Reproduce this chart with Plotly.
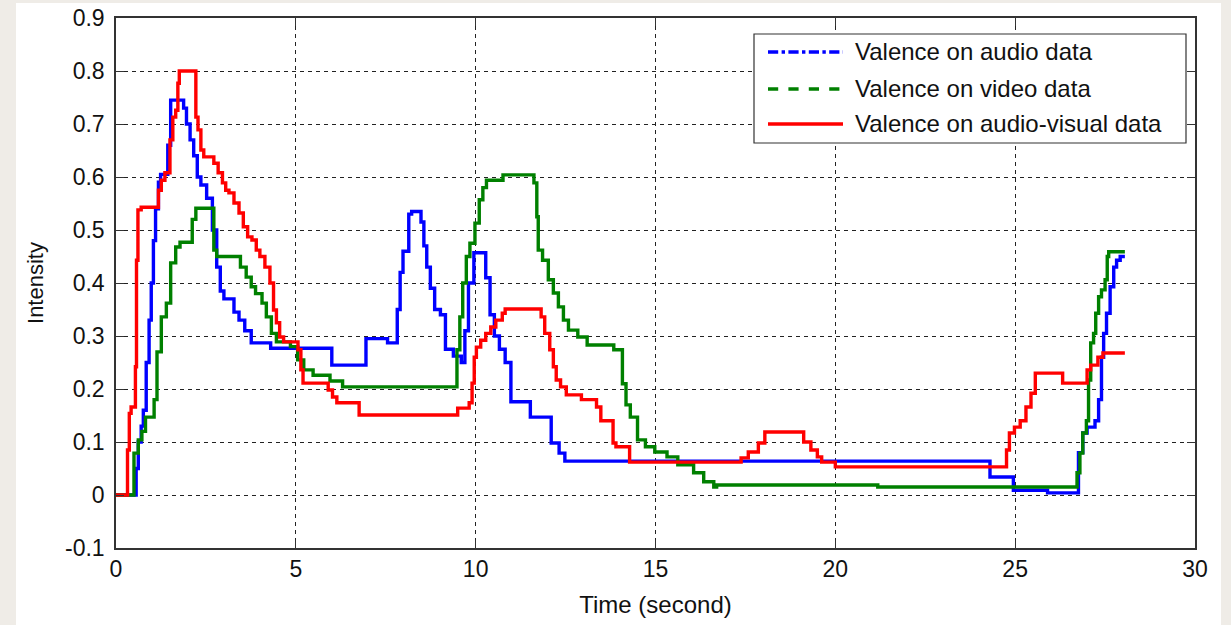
import plotly.graph_objects as go

# ---- data (step functions: value holds from t until next t) ----
audio_t = [0, 0.56, 0.62, 0.70, 0.76, 0.84, 0.92, 0.98, 1.04, 1.10, 1.18, 1.24, 1.44, 1.52, 1.88, 1.96,
           2.06, 2.16, 2.26, 2.36, 2.52, 2.68, 2.80, 2.90, 3.00, 3.28, 3.42, 3.58, 3.76, 4.30, 6.00, 6.95,
           7.55, 7.82, 7.90, 7.98, 8.14, 8.22, 8.48, 8.56, 8.64, 8.74, 8.86, 9.02, 9.16, 9.38, 9.60, 9.70,
           9.80, 9.95, 10.28, 10.40, 10.52, 10.66, 10.82, 10.98, 11.52, 12.10, 12.32, 12.48, 24.30, 24.95,
           25.90, 26.76, 26.88, 27.00, 27.22, 27.32, 27.40, 27.46, 27.54, 27.64, 27.74, 27.82, 27.92, 28.05]
audio_v = [0, 0.05, 0.10, 0.13, 0.16, 0.25, 0.33, 0.40, 0.48, 0.54, 0.59, 0.605, 0.66, 0.745, 0.73, 0.70,
           0.67, 0.64, 0.60, 0.585, 0.56, 0.50, 0.43, 0.385, 0.37, 0.345, 0.33, 0.31, 0.287, 0.277, 0.245, 0.295,
           0.287, 0.35, 0.42, 0.46, 0.53, 0.535, 0.515, 0.47, 0.43, 0.39, 0.35, 0.34, 0.275, 0.262, 0.25, 0.31,
           0.40, 0.457, 0.41, 0.34, 0.30, 0.275, 0.25, 0.176, 0.147, 0.098, 0.079, 0.064, 0.034, 0.009,
           0.004, 0.08, 0.117, 0.128, 0.14, 0.18, 0.26, 0.305, 0.343, 0.393, 0.43, 0.443, 0.45, 0.45]

video_t = [0, 0.50, 0.62, 0.72, 0.82, 1.06, 1.14, 1.26, 1.40, 1.52, 1.66, 1.78, 2.12, 2.22, 2.72, 2.80,
           3.46, 3.62, 3.76, 3.88, 4.06, 4.18, 4.32, 4.46, 4.85, 5.05, 5.22, 5.48, 5.95, 6.30, 9.48, 9.56,
           9.64, 9.74, 9.84, 9.98, 10.10, 10.20, 10.30, 10.76, 11.62, 11.70, 11.74, 11.86, 12.02, 12.16,
           12.30, 12.44, 12.58, 12.84, 13.10, 13.84, 14.08, 14.18, 14.30, 14.50, 14.72, 14.98, 15.32, 15.62,
           16.06, 16.34, 16.62, 16.70, 21.18, 26.72, 26.80, 26.88, 26.98, 27.04, 27.10, 27.18, 27.24, 27.32,
           27.40, 27.50, 27.56, 27.60, 28.05]
video_v = [0, 0.079, 0.104, 0.12, 0.147, 0.18, 0.27, 0.336, 0.362, 0.438, 0.468, 0.477, 0.52, 0.541, 0.462, 0.45,
           0.43, 0.411, 0.393, 0.38, 0.362, 0.336, 0.305, 0.289, 0.28, 0.255, 0.236, 0.226, 0.215, 0.204, 0.274, 0.336,
           0.40, 0.45, 0.475, 0.513, 0.557, 0.58, 0.594, 0.604, 0.589, 0.525, 0.462, 0.443, 0.406, 0.381,
           0.355, 0.33, 0.311, 0.298, 0.283, 0.274, 0.21, 0.17, 0.147, 0.104, 0.091, 0.081, 0.072, 0.057,
           0.042, 0.025, 0.015, 0.019, 0.015, 0.042, 0.079, 0.117, 0.14, 0.217, 0.287, 0.305, 0.343, 0.374,
           0.387, 0.406, 0.45, 0.459, 0.459]

av_t = [0, 0.32, 0.37, 0.42, 0.54, 0.57, 0.61, 0.70, 1.18, 1.26, 1.36, 1.50, 1.58, 1.66, 1.72, 1.76,
        2.22, 2.28, 2.36, 2.44, 2.72, 2.84, 2.96, 3.05, 3.14, 3.28, 3.42, 3.54, 3.66, 3.78, 3.90, 4.00,
        4.14, 4.28, 4.38, 4.46, 4.55, 4.66, 5.06, 5.14, 5.20, 5.90, 6.02, 6.14, 6.76, 9.50, 9.82, 9.90,
        9.96, 10.02, 10.14, 10.28, 10.42, 10.56, 10.74, 10.82, 11.82, 11.92, 12.06, 12.16, 12.24, 12.36,
        12.52, 12.94, 13.36, 13.48, 13.82, 13.90, 14.28, 17.38, 17.58, 17.86, 18.04, 19.12, 19.32, 19.50,
        19.62, 20.00, 24.76, 24.84, 24.98, 25.14, 25.30, 25.44, 25.56, 26.32, 27.00, 27.10, 27.30, 27.44, 28.05]
av_v = [0, 0.085, 0.154, 0.166, 0.242, 0.443, 0.538, 0.543, 0.575, 0.594, 0.608, 0.67, 0.713, 0.726, 0.777, 0.80,
        0.713, 0.689, 0.651, 0.638, 0.626, 0.608, 0.589, 0.575, 0.57, 0.551, 0.532, 0.506, 0.487, 0.481, 0.462, 0.45,
        0.43, 0.40, 0.349, 0.325, 0.298, 0.289, 0.274, 0.236, 0.211, 0.198, 0.185, 0.174, 0.151, 0.164, 0.174, 0.211,
        0.26, 0.279, 0.292, 0.305, 0.317, 0.33, 0.343, 0.351, 0.336, 0.305, 0.274, 0.242, 0.217, 0.204,
        0.189, 0.18, 0.166, 0.14, 0.098, 0.091, 0.062, 0.07, 0.081, 0.098, 0.119, 0.10, 0.085, 0.072,
        0.062, 0.053, 0.085, 0.117, 0.128, 0.14, 0.166, 0.192, 0.23, 0.211, 0.236, 0.245, 0.26, 0.268, 0.268]

series_names = ["Valence on audio data", "Valence on video data", "Valence on audio-visual data"]
series_colors = ["#0000ff", "#008000", "#ff0000"]
legend_dash = ["dashdot", "dash", "solid"]

x_ticks = [0, 5, 10, 15, 20, 25, 30]
y_ticks = [-0.1, 0, 0.1, 0.2, 0.3, 0.4, 0.5, 0.6, 0.7, 0.8, 0.9]
y_ticktext = ["-0.1", "0", "0.1", "0.2", "0.3", "0.4", "0.5", "0.6", "0.7", "0.8", "0.9"]

FONT = "Liberation Sans, Arial, sans-serif"
BG = "#efece7"

fig = go.Figure()
for (t, v), name, col in zip([(audio_t, audio_v), (video_t, video_v), (av_t, av_v)],
                             series_names, series_colors):
    fig.add_trace(go.Scatter(x=t, y=v, mode="lines", name=name, line=dict(color=col, width=3.4, shape="hv"),
                             showlegend=False))

# layout geometry (pixels)
W, H = 1231, 625
ML, MR, MT, MB = 116, 36, 18, 77
PW, PH = W - ML - MR, H - MT - MB

def px(x):
    return (x - ML) / PW

def py(y):
    return (H - MB - y) / PH

shapes = [
    # white figure panel
    dict(type="rect", xref="paper", yref="paper", x0=px(16), x1=px(1221), y0=py(630), y1=py(3),
         fillcolor="white", line=dict(width=0), layer="below"),
    # legend box
    dict(type="rect", xref="paper", yref="paper", x0=px(754), x1=px(1186), y0=py(143), y1=py(34),
         fillcolor="white", line=dict(color="#333333", width=1.2), layer="above"),
]
annotations = []
leg_y = [52, 89, 124]
for yy, name, col, dsh in zip(leg_y, series_names, series_colors, legend_dash):
    shapes.append(dict(type="line", xref="paper", yref="paper", x0=px(768), x1=px(843), y0=py(yy), y1=py(yy),
                       line=dict(color=col, width=3.4, dash=dsh), layer="above"))
    annotations.append(dict(xref="paper", yref="paper", x=px(853), y=py(yy), text=name, showarrow=False,
                            xanchor="left", yanchor="middle", font=dict(family=FONT, size=24, color="#111111")))

axis_common = dict(showline=True, linecolor="#333333", linewidth=1.5, mirror="ticks", ticks="inside",
                   ticklen=8, tickcolor="#333333", tickwidth=1.2, showgrid=True, gridcolor="#222222",
                   gridwidth=1, griddash="4px,4px", zeroline=False,
                   tickfont=dict(family=FONT, size=23, color="#111111"))

fig.update_layout(
    width=W, height=H,
    margin=dict(l=ML, r=MR, t=MT, b=MB, autoexpand=False),
    paper_bgcolor=BG,
    plot_bgcolor="white",
    shapes=shapes,
    annotations=annotations,
    showlegend=False,
    xaxis=dict(range=[0, 30], tickvals=x_ticks, ticktext=[str(v) for v in x_ticks],
               title=dict(text="Time (second)", font=dict(family=FONT, size=24, color="#111111"), standoff=15),
               **axis_common),
    yaxis=dict(range=[-0.1, 0.9], tickvals=y_ticks, ticktext=y_ticktext, ticklabelstandoff=5,
               title=dict(text="Intensity", font=dict(family=FONT, size=22, color="#111111"), standoff=15),
               **axis_common),
)

fig.write_html("out.html", config={"displayModeBar": False},
               post_script="document.body.style.margin='0';document.body.style.background='" + BG + "';")
